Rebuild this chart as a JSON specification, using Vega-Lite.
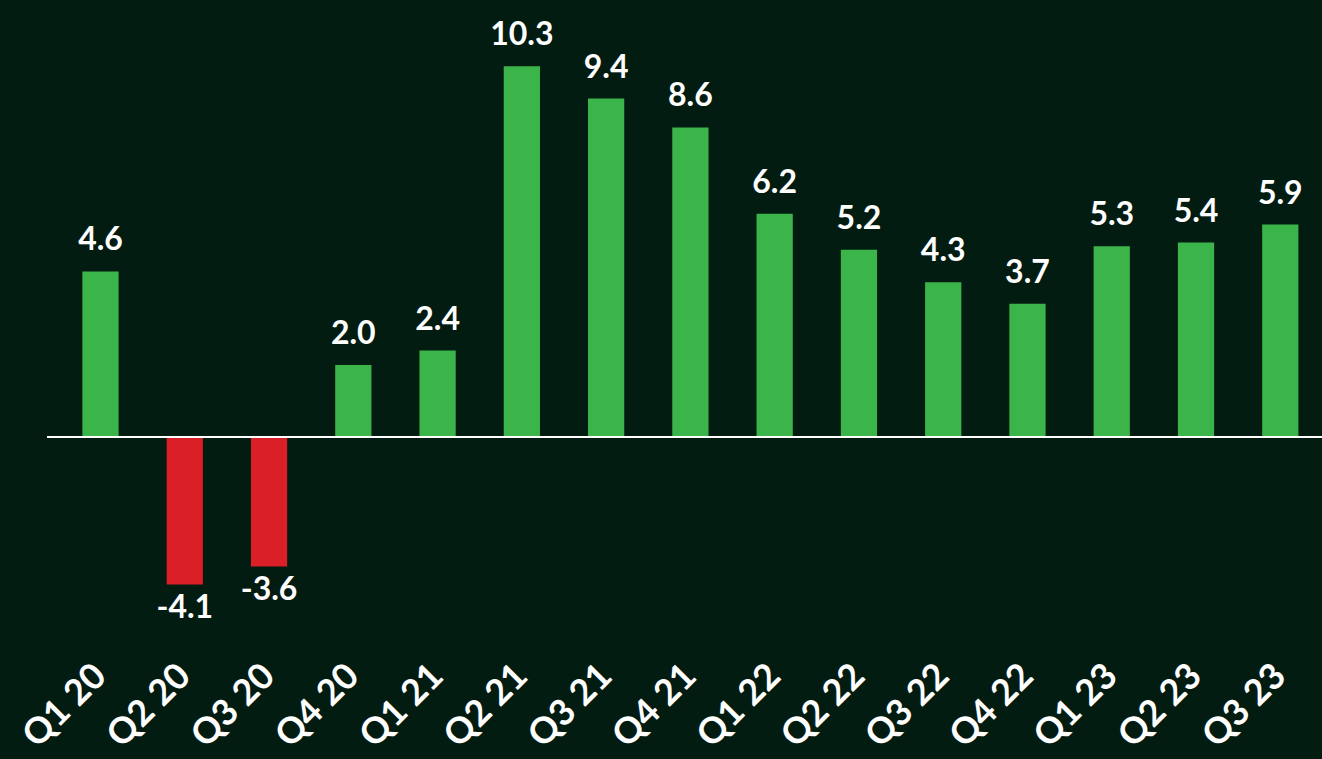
{
  "$schema": "https://vega.github.io/schema/vega-lite/v6.json",
  "width": 1275,
  "height": 648,
  "autosize": {"type": "none"},
  "padding": {"left": 47, "top": 5, "right": 0, "bottom": 106},
  "background": "#031c12",
  "config": {
    "view": {"stroke": null},
    "font": "Lato",
    "locale": {"number": {"decimal": ".", "thousands": ",", "grouping": [3], "currency": ["$", ""], "minus": "-"}}
  },
  "data": {"values": [
    {"q": "Q1 20", "v": 4.6},
    {"q": "Q2 20", "v": -4.1},
    {"q": "Q3 20", "v": -3.6},
    {"q": "Q4 20", "v": 2.0},
    {"q": "Q1 21", "v": 2.4},
    {"q": "Q2 21", "v": 10.3},
    {"q": "Q3 21", "v": 9.4},
    {"q": "Q4 21", "v": 8.6},
    {"q": "Q1 22", "v": 6.2},
    {"q": "Q2 22", "v": 5.2},
    {"q": "Q3 22", "v": 4.3},
    {"q": "Q4 22", "v": 3.7},
    {"q": "Q1 23", "v": 5.3},
    {"q": "Q2 23", "v": 5.4},
    {"q": "Q3 23", "v": 5.9}
  ]},
  "encoding": {
    "x": {
      "field": "q", "type": "nominal", "sort": null,
      "scale": {"paddingInner": 0.57, "paddingOuter": 0.35, "align": 0.6},
      "axis": {
        "title": null, "domain": false, "ticks": false,
        "labelAngle": -45, "labelAlign": "right", "labelBaseline": "middle",
        "labelFontSize": 36, "labelFontWeight": "bold", "labelColor": "#ffffff",
        "labelPadding": 17, "labelFont": "Lato"
      }
    },
    "y": {
      "field": "v", "type": "quantitative",
      "scale": {"domain": [-6, 12], "nice": false, "zero": true},
      "axis": null
    }
  },
  "layer": [
    {
      "mark": {"type": "bar"},
      "encoding": {
        "color": {
          "condition": {"test": "datum.v < 0", "value": "#da1f26"},
          "value": "#3bb54a"
        }
      }
    },
    {
      "mark": {"type": "rule", "color": "#ffffff", "strokeWidth": 1.5},
      "encoding": {"x": {"value": 0}, "x2": {"value": 1275}, "y": {"datum": 0}}
    },
    {
      "transform": [{"filter": "datum.v >= 0"}],
      "mark": {"type": "text", "color": "#ffffff", "fontSize": 32, "fontWeight": "bold", "baseline": "bottom", "dy": -14},
      "encoding": {"text": {"field": "v", "type": "quantitative", "format": ".1f"}}
    },
    {
      "transform": [{"filter": "datum.v < 0"}],
      "mark": {"type": "text", "color": "#ffffff", "fontSize": 32, "fontWeight": "bold", "baseline": "top", "dy": 8},
      "encoding": {"text": {"field": "v", "type": "quantitative", "format": ".1f"}}
    }
  ]
}
